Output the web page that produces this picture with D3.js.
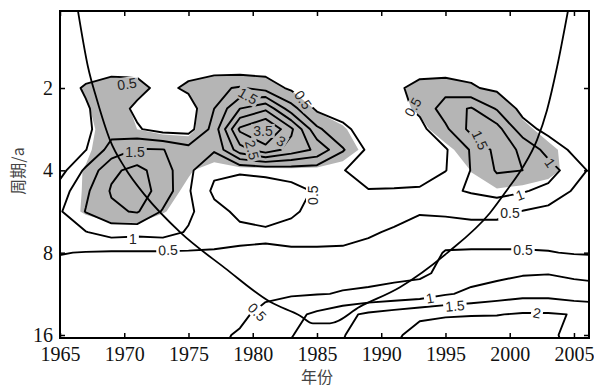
<!DOCTYPE html>
<html>
<head>
<meta charset="utf-8">
<script src="https://cdn.jsdelivr.net/npm/d3@7"></script>
<style>
  body { margin: 0; background: #fff; }
  svg { display: block; }
</style>
</head>
<body>
<svg id="chart" width="594" height="389"></svg>
<script>
// grid: columns are years (every 2 years), rows are log2(period) in steps of 0.25
const years = d3.range(1965, 2008, 2);
const log2Periods = d3.range(0, 4.5, 0.25);

// wavelet power, one row per period, one value per year column
const power = [
  [.1,.1,.1,.1,.1,.1,.1,.1,.1,.1,.1,.1,.1,.1,.1,.1,.1,.1,.1,.1,.1,.1],
  [.12,.12,.12,.12,.12,.12,.12,.12,.12,.12,.12,.12,.12,.12,.12,.12,.12,.12,.12,.12,.12,.12],
  [.15,.2,.2,.2,.15,.15,.15,.12,.15,.12,.1,.1,.1,.12,.18,.15,.15,.12,.1,.1,.1,.1],
  [.2,.3,.3,.35,.2,.3,.25,.2,.25,.2,.15,.15,.15,.2,.3,.2,.35,.25,.2,.2,.15,.15],
  [.3,.55,.75,.65,.35,.6,.9,1.05,.8,.4,.3,.25,.3,.4,.65,.8,.55,.4,.3,.25,.2,.2],
  [.3,.45,.75,.4,.25,.25,1.0,2.0,2.4,1.2,.4,.3,.25,.3,.6,1.25,1.55,.95,.35,.3,.25,.2],
  [.3,.4,.8,.55,.3,.3,1.2,3.1,3.6,2.6,1.1,.6,.3,.3,.35,.9,1.65,1.7,.7,.35,.25,.2],
  [.35,.48,1.2,1.55,1.52,1.2,1.05,2.3,2.8,2.3,1.9,1.05,.4,.3,.3,.45,1.05,1.65,1.45,.8,.4,.3],
  [.3,1.1,1.9,2.15,1.75,1.1,.6,.55,.6,.7,.7,.52,.3,.3,.3,.48,1.02,1.55,1.5,1.25,.7,.3],
  [.75,1.4,2.05,2.25,1.8,1.05,.4,.3,.3,.35,.55,.65,.52,.53,.55,.9,1.05,1.2,1.05,.85,.45,.3],
  [.95,1.52,1.9,2.05,1.45,1.1,.65,.4,.35,.45,.6,.7,.7,.65,.52,.55,.6,.6,.48,.35,.3,.25],
  [.85,.98,1.2,1.15,1.2,.95,.75,.6,.55,.6,.6,.6,.55,.45,.4,.35,.35,.35,.35,.3,.3,.3],
  [.52,.48,.45,.45,.45,.45,.45,.45,.46,.46,.46,.45,.38,.35,.35,.52,.53,.53,.53,.52,.47,.45],
  [.35,.35,.35,.35,.35,.35,.35,.35,.35,.38,.4,.4,.4,.4,.42,.6,.8,.85,.95,.98,.9,.85],
  [.3,.3,.3,.3,.3,.3,.32,.35,.4,.45,.48,.52,.55,.62,.7,.95,1.1,1.25,1.35,1.35,1.25,1.2],
  [.25,.25,.25,.25,.28,.3,.32,.4,.65,.85,1.1,1.35,1.6,1.75,1.9,1.95,1.97,1.98,2.05,2.05,1.98,1.9],
  [.2,.2,.25,.25,.3,.35,.4,.55,.75,.98,1.2,1.47,1.75,1.9,2.2,2.3,2.35,2.35,2.3,2.1,1.85,1.7],
  [.2,.2,.25,.25,.3,.35,.45,.65,.85,1.1,1.3,1.55,1.85,2.05,2.3,2.4,2.45,2.45,2.4,2.2,1.9,1.75]
];

// 95% significance level for each period row
const signif = [.5,.5,.5,.5,.5,.5,.55,.65,1.0,1.3,1.4,1.8,2.5,3,3.5,4,4.5,5];

// cone of influence [year, period]
const coi = [
  [1966.40, 1.046], [1967.18, 1.676], [1967.88, 2.213], [1968.89, 3.10],
  [1970.06, 3.92], [1971.61, 4.93], [1974.34, 6.73], [1977.84, 9.11],
  [1981.34, 12.1], [1983.68, 13.6], [1984.69, 14.5], [1986.01, 14.5],
  [1988.35, 12.6], [1991.46, 10.7], [1995.12, 8.03], [1998.46, 5.73],
  [1999.79, 4.72], [2001.03, 3.89], [2002.12, 3.10], [2002.90, 2.41],
  [2003.68, 1.68], [2004.53, 1.046]
];

const levels = [0.5, 1, 1.5, 2, 2.5, 3, 3.5];
const xTicks = [1965, 1970, 1975, 1980, 1985, 1990, 1995, 2000, 2005];
const yTicks = [2, 4, 8, 16];

// contour labels: text, year, period, angle
const labels = [
  ['0.5', 1970.21, 1.934, -8], ['1.5', 1970.84, 3.43, 0], ['1', 1970.68, 7.13, 0],
  ['0.5', 1973.40, 7.83, -3], ['1.5', 1979.63, 2.14, 30], ['0.5', 1983.91, 2.21, 55],
  ['3.5', 1980.80, 2.87, 0], ['2.5', 1979.94, 3.37, 75], ['3', 1982.20, 3.13, 30],
  ['0.5', 1984.69, 4.93, -90], ['0.5', 1992.47, 2.35, -60], ['1.5', 1997.68, 3.10, 65],
  ['1', 2003.13, 3.76, 55], ['1', 2000.80, 4.93, -20], ['0.5', 2000.02, 5.73, 0],
  ['0.5', 2001.03, 7.83, 0], ['1', 1993.79, 11.73, -10], ['1.5', 1995.74, 12.54, -5],
  ['2', 2002.12, 13.30, 10], ['0.5', 1980.33, 13.20, 45]
];

const width = 594, height = 389;
const plotLeft = 60, plotRight = 589, plotTop = 11, plotBottom = 338;
const serif = '"Liberation Serif", "Times New Roman", Times, serif';

const svg = d3.select('#chart');

const x = d3.scaleLinear().domain([1965, 2006.17]).range([plotLeft, plotRight]);
const y = d3.scaleLog().base(2).domain([1.0457, 16.41]).range([plotTop, plotBottom]);

const nx = years.length, ny = log2Periods.length;
const dYear = years[1] - years[0], dLog = log2Periods[1] - log2Periods[0];

// contour grid coords -> screen
function projectPoint(cx, cy) {
  const yr = years[0] + (cx - 0.5) * dYear;
  const lp = log2Periods[0] + (cy - 0.5) * dLog;
  this.stream.point(x(yr), y(Math.pow(2, lp)));
}
const path = d3.geoPath(d3.geoTransform({ point: projectPoint }));

const flat = [];
power.forEach(row => row.forEach(v => flat.push(v)));
const ratio = [];
power.forEach((row, j) => row.forEach(v => ratio.push(v / signif[j])));

const defs = svg.append('defs');
defs.append('clipPath').attr('id', 'plotClip')
  .append('rect')
  .attr('x', plotLeft).attr('y', plotTop)
  .attr('width', plotRight - plotLeft).attr('height', plotBottom - plotTop);

const mask = defs.append('mask').attr('id', 'labelMask')
  .attr('maskUnits', 'userSpaceOnUse')
  .attr('x', 0).attr('y', 0).attr('width', width).attr('height', height);
mask.append('rect').attr('width', width).attr('height', height).attr('fill', 'white');

const plot = svg.append('g').attr('clip-path', 'url(#plotClip)');

// significance shading
plot.append('g')
  .selectAll('path')
  .data(d3.contours().size([nx, ny]).thresholds([1])(ratio))
  .enter()
  .append('path')
  .attr('d', path)
  .attr('fill', '#b5b5b5')
  .attr('stroke', 'none');

// contour lines
plot.append('g')
  .attr('mask', 'url(#labelMask)')
  .selectAll('path')
  .data(d3.contours().size([nx, ny]).thresholds(levels)(flat))
  .enter()
  .append('path')
  .attr('d', path)
  .attr('fill', 'none')
  .attr('stroke', '#000')
  .attr('stroke-width', 1.9)
  .attr('stroke-linejoin', 'round');

// cone of influence
plot.append('path')
  .datum(coi)
  .attr('d', d3.line().x(d => x(d[0])).y(d => y(d[1])).curve(d3.curveMonotoneX))
  .attr('fill', 'none')
  .attr('stroke', '#000')
  .attr('stroke-width', 1.8);

// labels
const lab = svg.append('g')
  .selectAll('g')
  .data(labels)
  .enter()
  .append('g')
  .attr('transform', d => 'translate(' + x(d[1]) + ',' + y(d[2]) + ') rotate(' + d[3] + ')');

lab.append('text')
  .attr('text-anchor', 'middle')
  .attr('dy', '0.35em')
  .style('font-family', '"Liberation Sans", Arial, sans-serif')
  .style('font-size', '14px')
  .style('fill', '#222')
  .text(d => d[0]);

lab.each(function(d) {
  const w = d3.select(this).select('text').node().getComputedTextLength();
  mask.append('rect')
    .attr('x', -w / 2 - 2).attr('y', -7)
    .attr('width', w + 4).attr('height', 14)
    .attr('fill', 'black')
    .attr('transform', 'translate(' + x(d[1]) + ',' + y(d[2]) + ') rotate(' + d[3] + ')');
});

// axes (inside ticks)
const tickStyle = g => {
  g.attr('font-family', serif).attr('font-size', 20);
  g.select('.domain').remove();
  g.selectAll('.tick line').attr('stroke', '#000').attr('stroke-width', 1.5);
  g.selectAll('.tick text')
    .attr('font-family', serif)
    .style('font-family', serif)
    .style('font-size', '20px')
    .style('fill', '#111');
};

svg.append('g').attr('transform', 'translate(0,' + plotBottom + ')')
  .call(d3.axisBottom(x).tickValues(xTicks).tickSize(-5).tickPadding(9).tickFormat(d3.format('d')))
  .call(tickStyle);
svg.append('g').attr('transform', 'translate(0,' + plotTop + ')')
  .call(d3.axisTop(x).tickValues(xTicks).tickSize(-5).tickFormat(''))
  .call(tickStyle);
svg.append('g').attr('transform', 'translate(' + plotLeft + ',0)')
  .call(d3.axisLeft(y).tickValues(yTicks).tickSize(-5).tickPadding(7).tickFormat(d3.format('d')))
  .call(tickStyle);
svg.append('g').attr('transform', 'translate(' + plotRight + ',0)')
  .call(d3.axisRight(y).tickValues(yTicks).tickSize(-5).tickFormat(''))
  .call(tickStyle);

// frame
svg.append('rect')
  .attr('x', plotLeft).attr('y', plotTop)
  .attr('width', plotRight - plotLeft).attr('height', plotBottom - plotTop)
  .attr('fill', 'none')
  .attr('stroke', '#000')
  .attr('stroke-width', 2);

// axis titles
svg.append('text')
  .attr('x', 317).attr('y', 383)
  .attr('text-anchor', 'middle')
  .style('font-family', '"Noto Sans CJK SC", sans-serif')
  .style('font-size', '16px')
  .style('fill', '#444')
  .text('年份');

svg.append('text')
  .attr('transform', 'translate(18,171) rotate(-90)')
  .attr('text-anchor', 'middle')
  .attr('dy', '0.35em')
  .style('font-family', '"Noto Sans CJK SC", sans-serif')
  .style('font-size', '16px')
  .style('fill', '#444')
  .text('周期/a');
</script>
</body>
</html>
